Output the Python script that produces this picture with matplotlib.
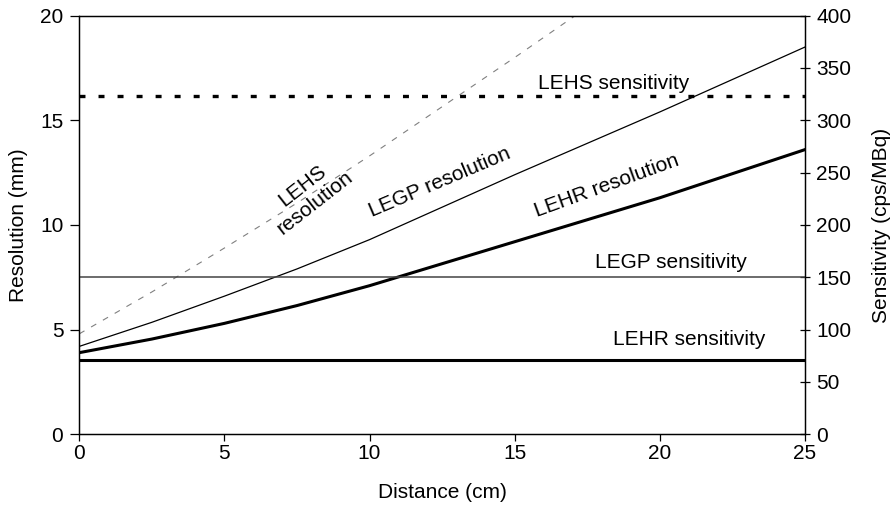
import matplotlib
matplotlib.use("Agg")
import matplotlib.pyplot as plt

plt.rcParams['font.family'] = ['Liberation Sans', 'DejaVu Sans']
plt.rcParams['lines.scale_dashes'] = False

# Source-to-collimator distance (cm)
distance = [0, 2.5, 5, 7.5, 10, 12.5, 15, 17.5, 20, 22.5, 25]

# System resolution (mm) for each collimator
lehr_resolution = [3.9, 4.55, 5.3, 6.15, 7.1, 8.15, 9.2, 10.25, 11.3, 12.45, 13.6]
legp_resolution = [4.2, 5.35, 6.6, 7.9, 9.3, 10.85, 12.4, 13.9, 15.4, 16.95, 18.5]
lehs_distance = [0, 2.5, 5, 7.5, 10, 12.5, 15, 17.5]
lehs_resolution = [4.8, 6.8, 8.9, 11.05, 13.3, 15.65, 18.0, 20.4]

# Sensitivity (cps/MBq), independent of distance
lehs_sensitivity = 323
legp_sensitivity = 150
lehr_sensitivity = 71

FS = 15

fig = plt.figure(figsize=(8.94, 5.05), dpi=100)
ax = fig.add_axes([0.0887, 0.140, 0.8117, 0.829])
ax2 = ax.twinx()

# Resolution curves (left axis)
ax.plot(lehs_distance, lehs_resolution, color='#808080', lw=0.8,
        linestyle=(0, (4.3, 5.5)))
ax.plot(distance, legp_resolution, color='black', lw=0.9)
ax.plot(distance, lehr_resolution, color='black', lw=2.2)

# Sensitivity lines (right axis)
span = [distance[0], distance[-1]]
ax2.plot(span, [lehs_sensitivity] * 2, color='black', lw=2.4,
         linestyle=(0, (4.3, 9.4)))
ax2.plot(span, [legp_sensitivity] * 2, color='#444444', lw=1.1)
ax2.plot(span, [lehr_sensitivity] * 2, color='black', lw=2.2)

ax.set_xlim(0, 25)
ax.set_ylim(0, 20)
ax2.set_ylim(0, 400)
ax.set_xticks([0, 5, 10, 15, 20, 25])
ax.set_yticks([0, 5, 10, 15, 20])
ax2.set_yticks([0, 50, 100, 150, 200, 250, 300, 350, 400])

ax.tick_params(axis='y', direction='out', length=6.5, width=0.9,
               labelsize=FS, pad=5)
ax.tick_params(axis='x', direction='out', length=5, width=0.9,
               labelsize=FS, pad=2)
ax2.tick_params(axis='y', direction='inout', length=6.5, width=0.9,
                labelsize=FS, pad=5)
for a in (ax, ax2):
    for s in a.spines.values():
        s.set_linewidth(0.9)

ax.set_xlabel('Distance (cm)', fontsize=FS)
ax.set_ylabel('Resolution (mm)', fontsize=FS)
ax2.set_ylabel('Sensitivity (cps/MBq)', fontsize=FS, rotation=90)
ax.xaxis.set_label_coords(0.4998, -0.116)
ax.yaxis.set_label_coords(-0.0707, 0.5)
ax2.yaxis.set_label_coords(1.0923, 0.5)

# Curve annotations
ax.text(18.4, 16.78, 'LEHS sensitivity', fontsize=FS, ha='center', va='center')
ax.text(20.4, 8.23, 'LEGP sensitivity', fontsize=FS, ha='center', va='center')
ax.text(21.0, 4.51, 'LEHR sensitivity', fontsize=FS, ha='center', va='center')
ax.text(12.42, 12.05, 'LEGP resolution', fontsize=FS, ha='center', va='center',
        rotation=23, rotation_mode='anchor')
ax.text(18.18, 11.86, 'LEHR resolution', fontsize=FS, ha='center', va='center',
        rotation=20, rotation_mode='anchor')
ax.text(7.9, 11.45, 'LEHS\nresolution', fontsize=FS, ha='center', va='center',
        rotation=38, rotation_mode='anchor', multialignment='center',
        linespacing=1.15)

fig.savefig('out.png', dpi=100)
